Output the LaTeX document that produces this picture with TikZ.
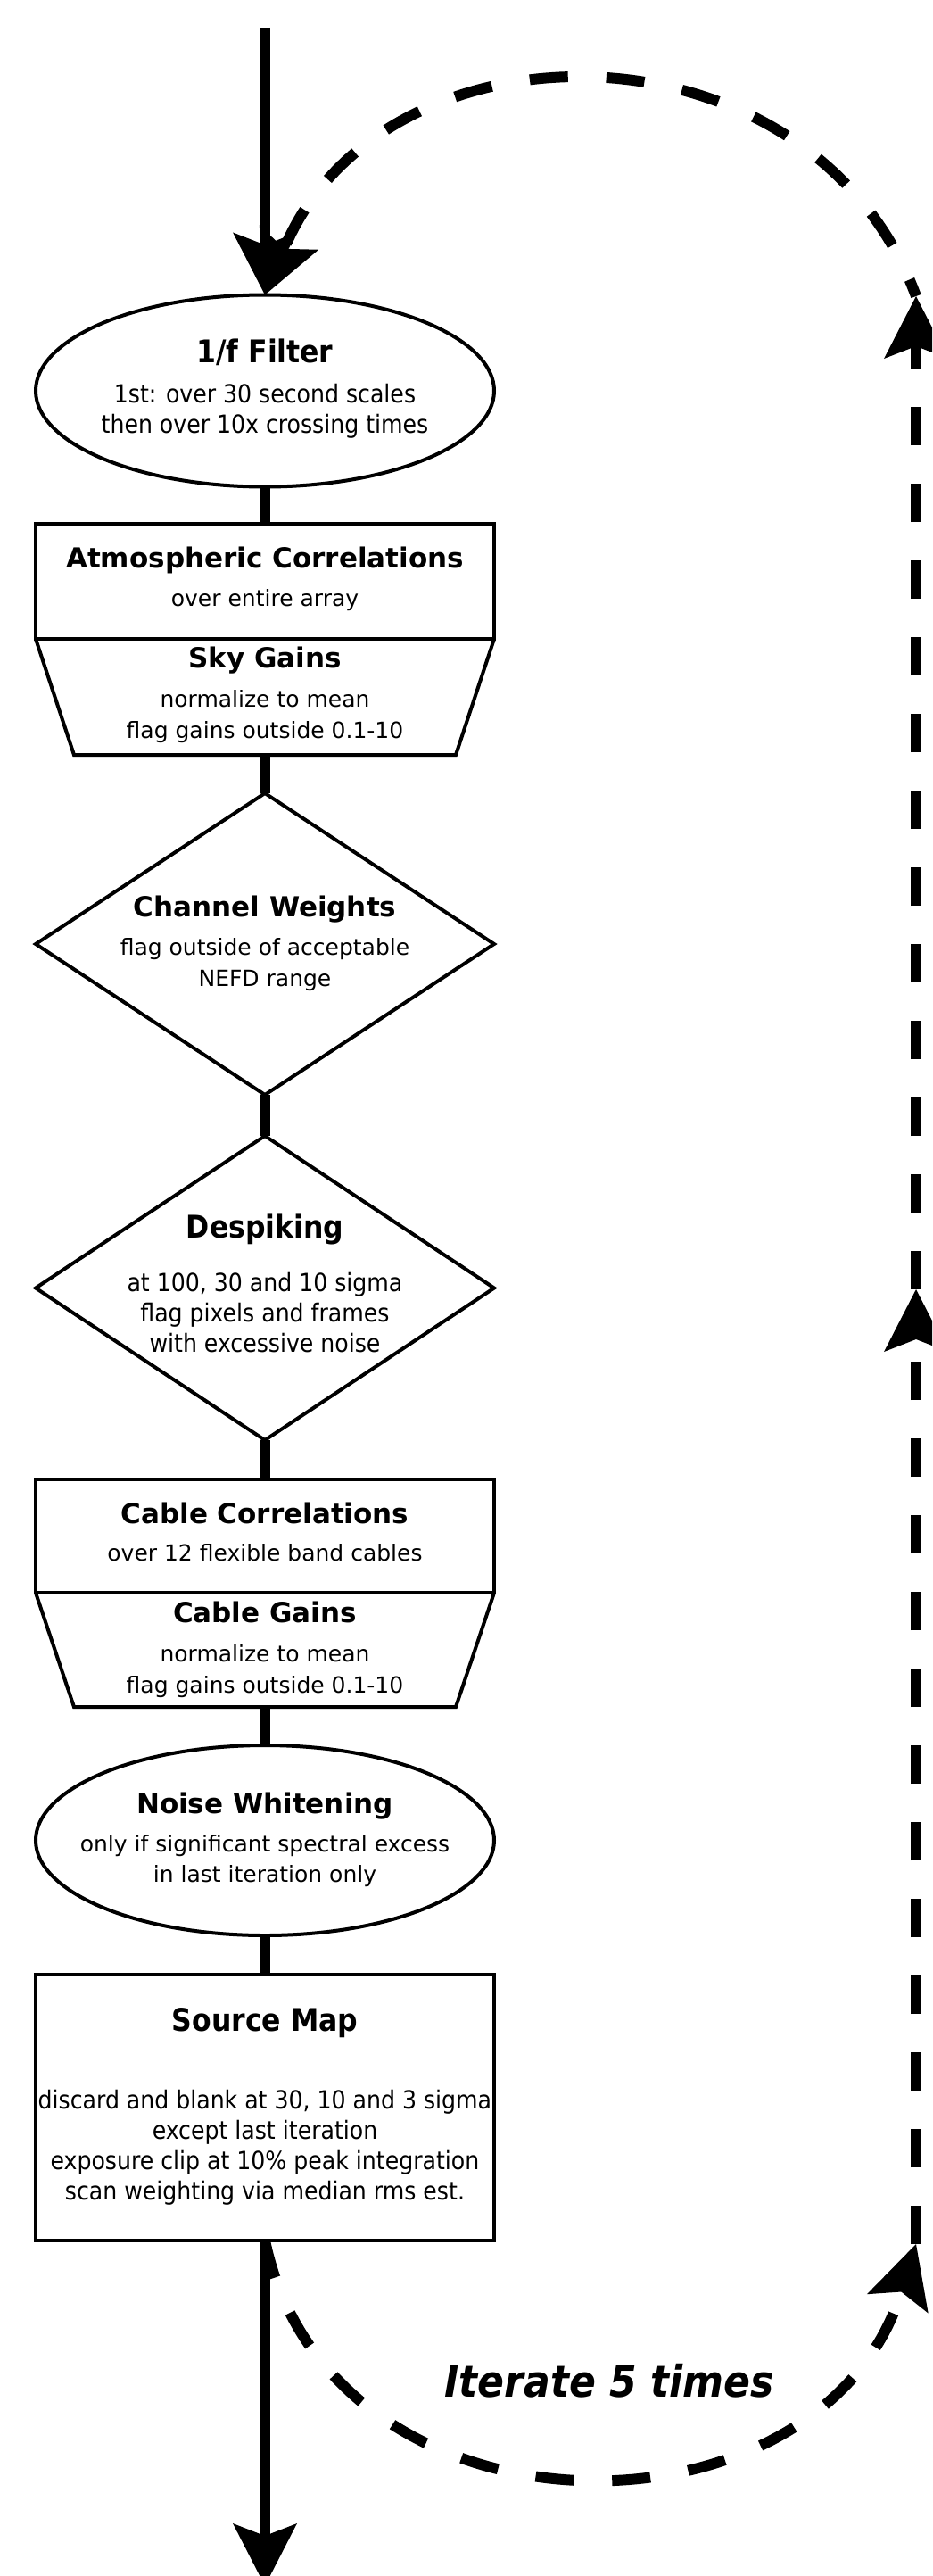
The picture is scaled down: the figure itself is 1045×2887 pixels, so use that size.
\documentclass[tikz,border=0pt]{standalone}
\usepackage{fontspec}
\setmainfont{DejaVu Sans}
\newfontfamily\condfont{DejaVu Sans Condensed}
\usetikzlibrary{arrows.meta,shapes.geometric}

% text styles of the pipeline boxes
\newcommand\bodytext{\fontsize{25}{34.5}\selectfont}
\newcommand\headtext{\fontsize{31}{34.5}\selectfont\bfseries}
\newcommand\condtext{\condfont\fontsize{28}{34}\selectfont}
\newcommand\condhead{\condfont\fontsize{35}{34}\selectfont\bfseries}

\begin{document}
\begin{tikzpicture}[x=1pt,y=-1pt,
  >={Stealth[length=70pt,width=72pt,inset=14pt,line width=0pt]},
  shapebox/.style={draw, line width=4pt, inner sep=0pt, outer sep=0pt,
                   minimum width=514pt},
  plainbox/.style={inner sep=0pt, outer sep=0pt, minimum width=514pt},
  border/.style={line width=4pt, line join=miter},
  txt/.style={align=center, inner sep=0pt, anchor=north},
  flow/.style={line width=12pt},
  loopline/.style={line width=12pt, dash pattern=on 43pt off 43pt}]

\useasboundingbox (0,0) rectangle (1045,2887);
\clip (0,0) rectangle (1045,2887);

% ---- pipeline stages ----
\node[shapebox, ellipse, minimum height=215pt] (filt) at (297,438) {};
\node[txt, font=\condtext] (filt-t) at (297,380)
  {{\condhead 1/f Filter}\\[11pt]1st: over 30 second scales\\then over 10x crossing times};

\node[shapebox, rectangle, minimum height=129pt] (atm) at (297,651.5) {};
\node[txt, font=\bodytext] (atm-t) at (297,613)
  {{\headtext Atmospheric Correlations}\\[8.5pt]over entire array};

\node[plainbox, minimum height=130pt] (sky) at (297,781) {};
\draw[border] (sky.north west) -- ([xshift=43pt]sky.south west)
  -- ([xshift=-43pt]sky.south east) -- (sky.north east);
\node[txt, font=\bodytext] (sky-t) at (297,725)
  {{\headtext Sky Gains}\\[9.5pt]normalize to mean\\flag gains outside 0.1-10};

\node[shapebox, diamond, minimum height=338pt] (chan) at (297,1058) {};
\node[txt, font=\bodytext] (chan-t) at (297,1004)
  {{\headtext Channel Weights}\\[8.5pt]flag outside of acceptable\\NEFD range};

\node[shapebox, diamond, minimum height=341pt] (desp) at (297,1443.5) {};
\node[txt, font=\condtext] (desp-t) at (297,1361)
  {{\condhead Despiking}\\[26pt]at 100, 30 and 10 sigma\\flag pixels and frames\\with excessive noise};

\node[shapebox, rectangle, minimum height=127pt] (cab) at (297,1721.5) {};
\node[txt, font=\bodytext] (cab-t) at (297,1684)
  {{\headtext Cable Correlations}\\[7pt]over 12 flexible band cables};

\node[plainbox, minimum height=128pt] (cabg) at (297,1849) {};
\draw[border] (cabg.north west) -- ([xshift=43pt]cabg.south west)
  -- ([xshift=-43pt]cabg.south east) -- (cabg.north east);
\node[txt, font=\bodytext] (cabg-t) at (297,1795)
  {{\headtext Cable Gains}\\[9.5pt]normalize to mean\\flag gains outside 0.1-10};

\node[shapebox, ellipse, minimum height=213pt] (noise) at (297,2062.5) {};
\node[txt, font=\bodytext] (noise-t) at (297,2009)
  {{\headtext Noise Whitening}\\[8pt]only if significant spectral excess\\in last iteration only};

\node[shapebox, rectangle, minimum height=298pt] (src) at (297,2362) {};
\node[txt, font=\condtext] (src-t) at (297,2250)
  {{\condhead Source Map}\\[53pt]discard and blank at 30, 10 and 3 sigma\\except last iteration\\exposure clip at 10\% peak integration\\scan weighting via median rms est.};

% ---- main data flow ----
\coordinate (in) at (297,31);
\coordinate (out) at (297,2898);
\draw[flow, ->] (in) -- (filt.north);
\draw[flow] (filt.south) -- (atm.north);
\draw[flow] (sky.south) -- (chan.north);
\draw[flow] (chan.south) -- (desp.north);
\draw[flow] (desp.south) -- (cab.north);
\draw[flow] (cabg.south) -- (noise.north);
\draw[flow] (noise.south) -- (src.north);
\draw[flow, ->] (src.south) -- (out);

% ---- iteration loop ----
\coordinate (loopA) at (1027,2515);
\coordinate (loopB) at (1027,1445);
\coordinate (loopC) at (1027,332);
\draw[loopline, ->] (src.south) .. controls (370,2860) and (920,2860) .. (loopA);
\draw[loopline, ->] (loopA) -- (loopB);
\draw[loopline, ->] (loopB) -- (loopC);
\draw[loopline, ->, dash phase=23pt] (loopC) .. controls (910,15) and (430,12) .. (filt.north);

\node[anchor=base, inner sep=0pt] (iter) at (683,2686)
  {\condfont\fontsize{49}{49}\selectfont\bfseries\itshape Iterate 5 times};
\end{tikzpicture}
\end{document}
